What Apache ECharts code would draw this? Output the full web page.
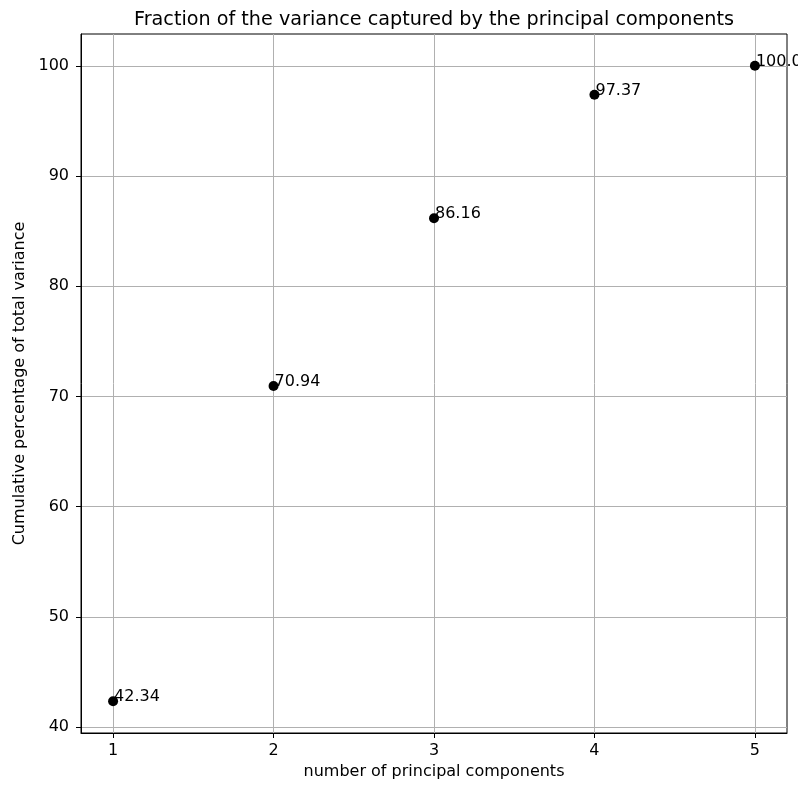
<!DOCTYPE html>
<html><head><meta charset="utf-8">
<script src="https://cdn.jsdelivr.net/npm/echarts@6/dist/echarts.min.js"></script>
<style>html,body{margin:0;padding:0;background:#fff}#c{width:798px;height:785px}</style>
</head><body><div id="c"></div>
<script>
var components = [1, 2, 3, 4, 5];
var cumulative = [42.34, 70.94, 86.16, 97.37, 100.0];
var labels = ['42.34', '70.94', '86.16', '97.37', '100.0'];
var xTicks = [1, 2, 3, 4, 5];
var yTicks = [40, 50, 60, 70, 80, 90, 100];

var F = '"DejaVu Sans", sans-serif';
var chart = echarts.init(document.getElementById('c'));
var pts = components.map(function (c, i) { return [c, cumulative[i], labels[i]]; });
chart.setOption({
  animation: false,
  backgroundColor: '#fff',
  title: {
    text: 'Fraction of the variance captured by the principal components',
    left: 429, top: 6, textAlign: 'center',
    textStyle: { fontFamily: F, fontSize: 19.2, fontWeight: 'normal', color: '#000' }
  },
  grid: { left: 81, right: 11, top: 34, bottom: 52, show: true, borderColor: '#000', borderWidth: 1, containLabel: false },
  xAxis: {
    type: 'value', min: 0.8, max: 5.2,
    name: 'number of principal components', nameLocation: 'middle', nameGap: 29,
    nameTextStyle: { fontFamily: F, fontSize: 16, color: '#000' },
    axisLine: { show: true, lineStyle: { color: '#000', width: 1 } },
    axisTick: { show: true, customValues: xTicks, length: 5, lineStyle: { color: '#000' } },
    axisLabel: { customValues: xTicks, fontFamily: F, fontSize: 16, color: '#000', margin: 10 },
    splitLine: { show: true, lineStyle: { color: '#b0b0b0', width: 1 } }
  },
  yAxis: {
    type: 'value', min: 39.457, max: 102.883,
    name: 'Cumulative percentage of total variance', nameLocation: 'middle', nameGap: 49, nameRotate: 90,
    nameTextStyle: { fontFamily: F, fontSize: 16, color: '#000' },
    axisLine: { show: true, lineStyle: { color: '#000', width: 1 } },
    axisTick: { show: true, customValues: yTicks, length: 5, lineStyle: { color: '#000' } },
    axisLabel: { customValues: yTicks, fontFamily: F, fontSize: 16, color: '#000', margin: 12 },
    splitLine: { show: true, lineStyle: { color: '#b0b0b0', width: 1 } }
  },
  series: [{
    type: 'scatter', data: pts, symbolSize: 10,
    itemStyle: { color: '#000', opacity: 1 },
    label: {
      show: true, position: [6, 9], align: 'left', verticalAlign: 'bottom',
      formatter: function (p) { return p.data[2]; },
      fontFamily: F, fontSize: 16, color: '#000'
    }
  }]
});
</script></body></html>
